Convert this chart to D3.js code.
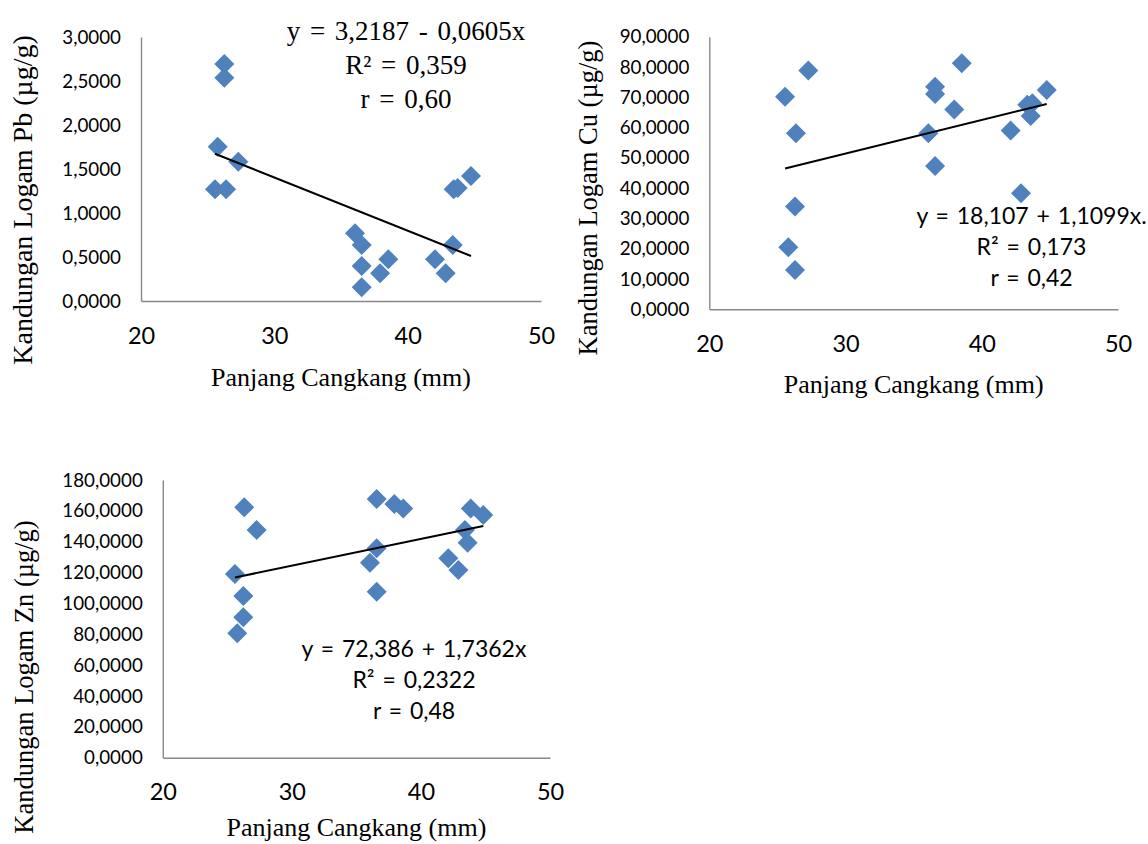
<!DOCTYPE html>
<html>
<head>
<meta charset="utf-8">
<script src="https://cdn.jsdelivr.net/npm/d3@7"></script>
<style>
  html, body { margin: 0; padding: 0; background: #ffffff; }
  svg { display: block; }
</style>
</head>
<body>
<svg id="chart" width="1148" height="844"></svg>
<script>
// ---------------- data ----------------
const xTicks = [20, 30, 40, 50];
const xTitle = "Panjang Cangkang (mm)";

// Pb panel
const pbLength = [26.25, 26.25, 25.75, 27.3, 25.55, 26.38, 36.05, 36.55, 36.55, 36.55, 37.93, 38.55, 42.05, 42.85, 43.38, 43.45, 43.75, 44.75];
const pbValue  = [2.693, 2.537, 1.753, 1.583, 1.269, 1.269, 0.769, 0.636, 0.398, 0.156, 0.315, 0.474, 0.474, 0.315, 0.636, 1.269, 1.285, 1.42];
const pbTicks  = [0, 0.5, 1, 1.5, 2, 2.5, 3];
const pbCoef   = [3.2187, -0.0605];
const pbEq     = ["y = 3,2187 - 0,0605x", "R² = 0,359", "r = 0,60"];
const pbTitle  = "Kandungan Logam Pb (µg/g)";

// Cu panel
const cuLength = [25.56, 27.27, 26.36, 26.29, 25.8, 26.29, 36.57, 36.57, 36.08, 36.57, 37.98, 38.53, 42.12, 42.88, 43.34, 43.71, 43.59, 44.77];
const cuValue  = [70.2, 78.8, 58.1, 33.9, 20.5, 13.0, 73.5, 71.1, 58.1, 47.3, 66.0, 81.2, 59.0, 38.3, 67.5, 68.0, 63.8, 72.4];
const cuTicks  = [0, 10, 20, 30, 40, 50, 60, 70, 80, 90];
const cuCoef   = [18.107, 1.1099];
const cuEq     = ["y = 18,107 + 1,1099x.", "R² = 0,173", "r = 0,42"];
const cuTitle  = "Kandungan Logam Cu (µg/g)";

// Zn panel
const znLength = [25.59, 26.31, 27.27, 26.24, 26.24, 25.77, 36.57, 36.57, 36.05, 36.57, 37.94, 38.63, 42.12, 42.9, 43.41, 43.62, 43.86, 44.83];
const znValue  = [119.1, 162.3, 147.6, 104.8, 91.0, 80.6, 167.7, 135.7, 126.4, 107.6, 164.4, 161.6, 129.2, 121.7, 147.6, 139.4, 161.6, 157.3];
const znTicks  = [0, 20, 40, 60, 80, 100, 120, 140, 160, 180];
const znCoef   = [72.386, 1.7362];
const znEq     = ["y = 72,386 + 1,7362x", "R² = 0,2322", "r = 0,48"];
const znTitle  = "Kandungan Logam Zn (µg/g)";

// ---------------- layout / style ----------------
const locale = d3.formatLocale({decimal: ",", thousands: ".", grouping: [3], currency: ["", ""]});
const fmt4 = locale.format(".4f");
const MARK = "#4F81BD";
const AXIS = "#888888";
const SANS = "Lato, 'Open Sans', sans-serif";
const SERIF = "'Liberation Serif', 'Times New Roman', serif";

const panels = [
  { xs: pbLength, ys: pbValue, ticks: pbTicks, coef: pbCoef, eq: pbEq, title: pbTitle,
    x0: 141, x1: 541, yb: 301, yt: 37, xTitleDy: 85,
    eqX: 406, eqY: 39.5, eqGap: 34, eqFont: SERIF, eqSize: 27, eqWS: 3,
    titleX: 32, titleY: 200, titleSize: 28 },
  { xs: cuLength, ys: cuValue, ticks: cuTicks, coef: cuCoef, eq: cuEq, title: cuTitle,
    x0: 709.3, x1: 1118, yb: 309.3, yt: 36.7, xTitleDy: 84,
    eqX: 1031.5, eqY: 223.5, eqGap: 31, eqFont: SANS, eqSize: 23, eqWS: 2,
    titleX: 597, titleY: 198, titleSize: 26.5 },
  { xs: znLength, ys: znValue, ticks: znTicks, coef: znCoef, eq: znEq, title: znTitle,
    x0: 162.8, x1: 550, yb: 757.7, yt: 480, xTitleDy: 78,
    eqX: 414, eqY: 656.5, eqGap: 31.2, eqFont: SANS, eqSize: 23, eqWS: 2,
    titleX: 33, titleY: 677, titleSize: 26.5 }
];

const svg = d3.select("#chart");

panels.forEach(p => {
  const g = svg.append("g");
  const x = d3.scaleLinear().domain([20, 50]).range([p.x0, p.x1]);
  const y = d3.scaleLinear().domain([p.ticks[0], p.ticks[p.ticks.length - 1]]).range([p.yb, p.yt]);

  // y axis
  const ya = g.append("g").attr("transform", `translate(${p.x0},0)`)
    .call(d3.axisLeft(y).tickValues(p.ticks).tickFormat(fmt4).tickSize(0).tickSizeOuter(0).tickPadding(20));
  ya.select(".domain").attr("stroke", AXIS).attr("stroke-width", 1.4);
  ya.selectAll("text").attr("font-family", SANS).attr("font-size", 18.8).attr("fill", "#000");

  // x axis
  const xa = g.append("g").attr("transform", `translate(0,${p.yb})`)
    .call(d3.axisBottom(x).tickValues(xTicks).tickFormat(d3.format("d")).tickSize(0).tickSizeOuter(0).tickPadding(26));
  xa.select(".domain").attr("stroke", AXIS).attr("stroke-width", 1.4);
  xa.selectAll("text").attr("font-family", SANS).attr("font-size", 23.5).attr("fill", "#000");

  // points
  const pts = p.xs.map((v, i) => [v, p.ys[i]]);
  g.append("g").selectAll("path").data(pts).join("path")
    .attr("d", d3.symbol(d3.symbolSquare, 200)())
    .attr("transform", d => `translate(${x(d[0])},${y(d[1])}) rotate(45)`)
    .attr("fill", MARK);

  // trend line
  const ext = d3.extent(p.xs);
  const line = d3.line().x(d => x(d)).y(d => y(p.coef[0] + p.coef[1] * d));
  g.append("path").attr("d", line(ext)).attr("stroke", "#000").attr("stroke-width", 2).attr("fill", "none");

  // equation
  p.eq.forEach((t, i) => {
    g.append("text").attr("x", p.eqX).attr("y", p.eqY + i * p.eqGap)
      .attr("text-anchor", "middle").attr("font-family", p.eqFont).attr("font-size", p.eqSize)
      .attr("word-spacing", p.eqWS).attr("fill", "#000").text(t);
  });

  // axis titles
  g.append("text").attr("x", (p.x0 + p.x1) / 2).attr("y", p.yb + p.xTitleDy)
    .attr("text-anchor", "middle").attr("font-family", SERIF).attr("font-size", 26).attr("fill", "#000")
    .text(xTitle);
  g.append("text").attr("transform", `translate(${p.titleX},${p.titleY}) rotate(-90)`)
    .attr("text-anchor", "middle").attr("font-family", SERIF).attr("font-size", p.titleSize).attr("fill", "#000")
    .text(p.title);
});
</script>
</body>
</html>
